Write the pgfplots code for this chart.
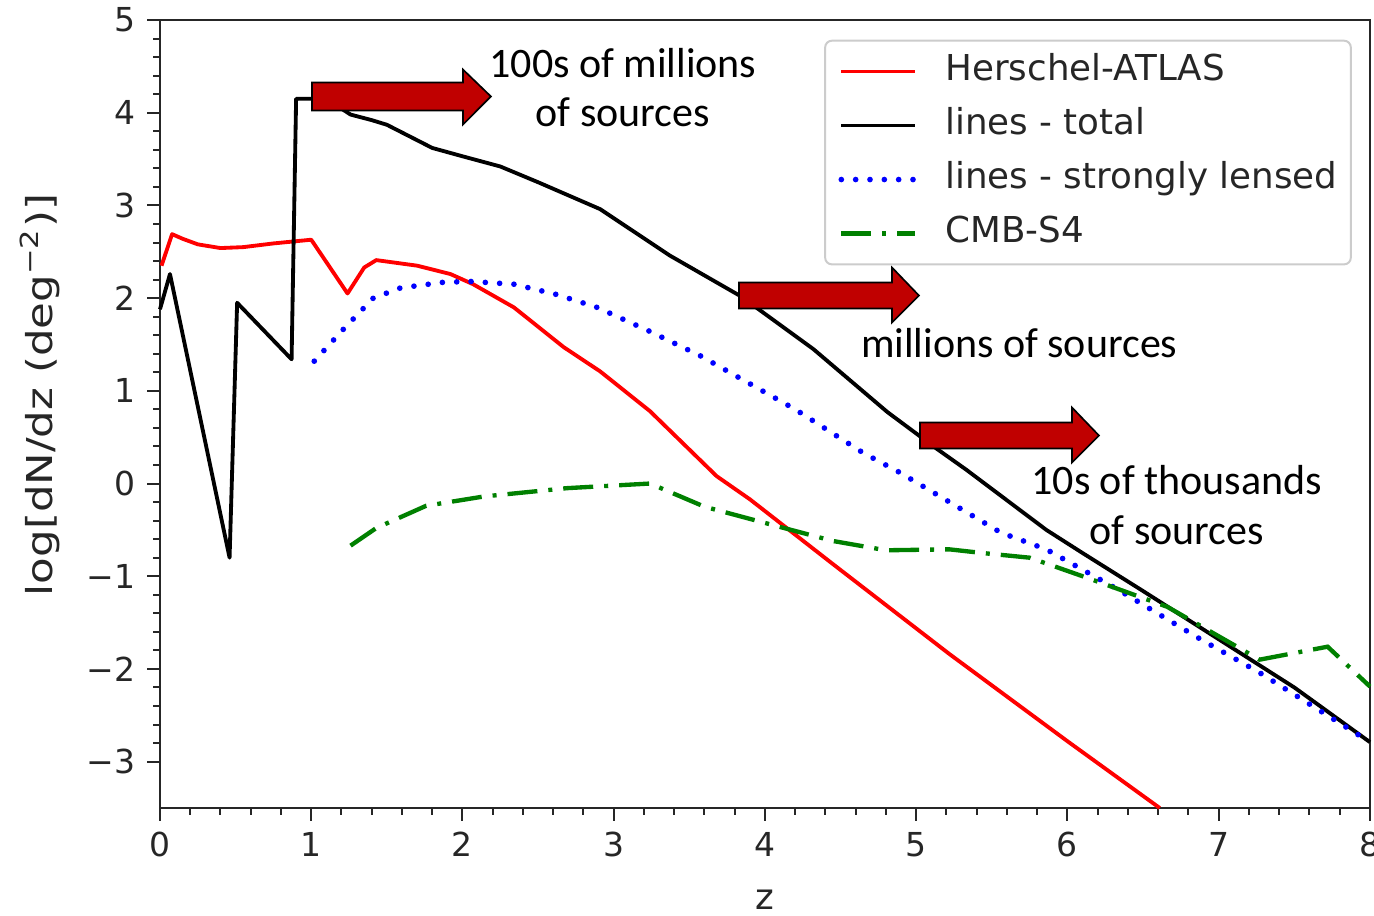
\documentclass[border=0pt]{standalone}
\usepackage{fontspec}
\setmainfont{DejaVu Sans}
\newfontfamily\calibri{Carlito}
\usepackage{graphicx}
\usepackage{pgfplots}
\pgfplotsset{compat=1.18}
\definecolor{arrowred}{HTML}{C00000}
\definecolor{mplgreen}{HTML}{008000}
\definecolor{legframe}{HTML}{CCCCCC}
\definecolor{txt}{HTML}{262626}

\pgfplotstableread{
z v
0.01 2.35
0.08 2.69
0.15 2.64
0.25 2.58
0.40 2.54
0.55 2.55
0.75 2.59
1.00 2.63
1.24 2.05
1.35 2.33
1.43 2.41
1.70 2.35
1.92 2.26
2.07 2.15
2.34 1.90
2.67 1.47
2.91 1.21
3.24 0.78
3.68 0.08
3.90 -0.17
4.12 -0.45
4.45 -0.87
5.22 -1.84
6.00 -2.78
6.61 -3.50
}\hatlas

\pgfplotstableread{
z v
0.00 1.88
0.066 2.26
0.46 -0.80
0.51 1.95
0.87 1.34
0.90 4.15
1.10 4.15
1.26 3.98
1.40 3.92
1.50 3.87
1.80 3.62
2.00 3.53
2.25 3.42
2.50 3.25
2.91 2.96
3.37 2.46
3.84 2.02
4.32 1.45
4.81 0.77
5.14 0.37
5.33 0.15
5.86 -0.50
6.10 -0.75
6.50 -1.16
7.00 -1.68
7.50 -2.20
8.00 -2.79
}\total

\pgfplotstableread{
z v
1.02 1.32
1.21 1.66
1.41 2.00
1.59 2.11
1.87 2.17
2.05 2.18
2.34 2.15
2.62 2.04
2.89 1.90
3.24 1.64
3.57 1.38
4.20 0.80
4.65 0.33
4.89 0.12
5.56 -0.53
5.86 -0.71
6.33 -1.14
6.88 -1.68
7.27 -2.04
8.00 -2.79
}\lensed

\pgfplotstableread{
z v
1.26 -0.67
1.43 -0.48
1.76 -0.24
2.14 -0.14
2.69 -0.05
3.24 0.00
3.60 -0.25
4.08 -0.46
4.45 -0.62
4.80 -0.72
5.22 -0.71
5.44 -0.75
5.75 -0.80
6.10 -1.00
6.22 -1.07
6.66 -1.33
7.27 -1.90
7.72 -1.76
8.00 -2.19
}\cmb

\begin{document}
\begin{tikzpicture}
\begin{axis}[
  at={(0,0)}, anchor=south west,
  scale only axis, width=363pt, height=236.4pt,
  xmin=0, xmax=8, ymin=-3.5, ymax=5,
  clip=false,
  axis line style={line width=0.8pt, black!85},
  tick pos=left, tick align=outside,
  major tick length=3.8pt, minor tick length=2pt,
  every tick/.style={black!85, line width=0.6pt},
  minor tick num=4,
  xtick={0,1,2,3,4,5,6,7,8}, xticklabels={0,1,2,3,4,5,6,7,8},
  ytick={-3,-2,-1,0,1,2,3,4,5}, yticklabels={−3,−2,−1,0,1,2,3,4,5},
  ticklabel style={font=\fontsize{9.9}{11}\selectfont, text=txt},
  xlabel={z},
  ylabel={\scalebox{1.22}[1]{log[dN/dz (deg\textsuperscript{−2})]}},
  xlabel style={at={(axis description cs:0.5,0)}, anchor=center, yshift=-27.6pt, font=\fontsize{10.7}{12}\selectfont, text=txt},
  ylabel style={at={(axis description cs:-0.0992,0.524)}, anchor=center, font=\fontsize{10.7}{12}\selectfont, text=txt},
  legend style={at={(0.985,0.975)}, anchor=north east, draw=legframe, rounded corners=2pt, line width=0.6pt,
    font=\fontsize{10.7}{12}\selectfont, text=txt, inner xsep=4pt, inner ysep=4pt,
    row sep=5.7pt, column sep=8.4pt,
    nodes={inner sep=0pt, text height=8pt, text depth=2.5pt}},
  legend cell align=left,
  legend image code/.code={\draw[#1] (0pt,0pt) -- (22pt,0pt);},
]
\addplot[red, line width=1.15pt, line join=round] table[x=z,y=v] {\hatlas};
\addlegendentry{Herschel-ATLAS}
\addplot[black, line width=1.15pt, line join=round] table[x=z,y=v] {\total};
\addlegendentry{lines - total}
\addplot[blue, line width=1.7pt, line cap=round, dash pattern=on 0pt off 4.3pt] table[x=z,y=v] {\lensed};
\addlegendentry{lines - strongly lensed}
\addplot[mplgreen, line width=1.3pt, dash pattern=on 9pt off 3.3pt on 1.2pt off 3.3pt] table[x=z,y=v] {\cmb};
\addlegendentry{CMB-S4}

\draw[fill=arrowred, line width=0.5pt, line join=miter]
  (axis cs:1.005,4.326) -- (axis cs:2.003,4.326) -- (axis cs:2.003,4.466) -- (axis cs:2.188,4.175)
  -- (axis cs:2.003,3.873) -- (axis cs:2.003,4.024) -- (axis cs:1.005,4.024) -- cycle;
\draw[fill=arrowred, line width=0.5pt, line join=miter]
  (axis cs:3.828,2.168) -- (axis cs:4.840,2.168) -- (axis cs:4.840,2.330) -- (axis cs:5.018,2.028)
  -- (axis cs:4.840,1.737) -- (axis cs:4.840,1.888) -- (axis cs:3.828,1.888) -- cycle;
\draw[fill=arrowred, line width=0.5pt, line join=miter]
  (axis cs:5.025,0.658) -- (axis cs:6.030,0.658) -- (axis cs:6.030,0.820) -- (axis cs:6.208,0.518)
  -- (axis cs:6.030,0.227) -- (axis cs:6.030,0.378) -- (axis cs:5.025,0.378) -- cycle;

\node[anchor=base, inner sep=0pt, font=\calibri\fontsize{12.6}{15}\selectfont] at (axis cs:3.061,4.380) {100s of millions};
\node[anchor=base, inner sep=0pt, font=\calibri\fontsize{12.6}{15}\selectfont] at (axis cs:3.061,3.851) {of sources};
\node[anchor=base, inner sep=0pt, font=\calibri\fontsize{12.6}{15}\selectfont] at (axis cs:5.681,1.359) {millions of sources};
\node[anchor=base, inner sep=0pt, font=\calibri\fontsize{12.6}{15}\selectfont] at (axis cs:6.722,-0.119) {10s of thousands};
\node[anchor=base, inner sep=0pt, font=\calibri\fontsize{12.6}{15}\selectfont] at (axis cs:6.722,-0.658) {of sources};
\end{axis}
\pgfresetboundingbox
\useasboundingbox (-48pt,-32.4pt) rectangle (364.2pt,242.4pt);
\end{tikzpicture}
\end{document}
